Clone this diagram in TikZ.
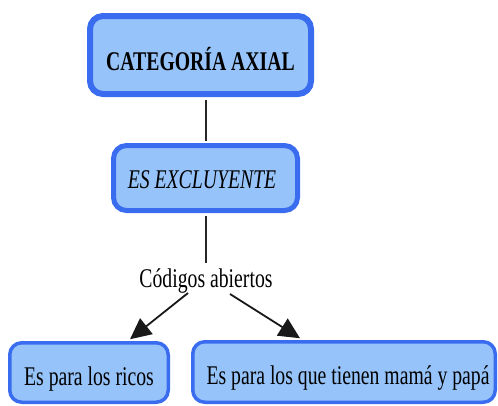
\documentclass[tikz,border=0pt]{standalone}
\usepackage{fontspec}
\setmainfont[FakeStretch=0.73]{Liberation Serif}
\usetikzlibrary{arrows.meta}
\definecolor{bfill}{RGB}{150,195,250}
\definecolor{bline}{RGB}{58,108,240}
\begin{document}
\begin{tikzpicture}[x=1pt,y=-1pt,
  txt/.style={font=\fontsize{27}{30}\selectfont},
  box/.style={draw=bline,fill=bfill,rounded corners=13pt,inner sep=0pt,text depth=0pt,txt},
  conn/.style={draw=black!85,line width=1.5pt},
  arr/.style={draw=black!90,line width=1.8pt,-{Triangle[length=21pt,width=20pt]}}]
\useasboundingbox (0,0) rectangle (498,405);
\node[box,line width=6pt,minimum width=221pt,minimum height=78pt,text height=30pt,font=\fontsize{27}{30}\selectfont\bfseries] (top) at (200.5,55) {CATEGORÍA AXIAL};
\node[box,line width=5pt,minimum width=184pt,minimum height=65pt,text height=20pt,font=\fontsize{27}{30}\selectfont\itshape] (mid) at (205.5,178) {ES EXCLUYENTE\hspace*{7pt}};
\node[txt,inner sep=0pt,anchor=base] (lbl) at (206,287) {Códigos abiertos};
\node[box,line width=3.5pt,rounded corners=12pt,minimum width=158.5pt,minimum height=59.5pt,text height=25pt] (rl) at (89,372.5) {Es para los ricos};
\node[box,line width=3.5pt,rounded corners=12pt,minimum width=302.5pt,minimum height=60.5pt,text height=25pt] (rr) at (344,372) {\hspace*{8pt}Es para los que tienen mamá y papá};
\draw[conn,shorten <=3pt,shorten >=2.5pt] (top.south -| lbl.base) -- (mid.north -| lbl.base);
\draw[conn,shorten <=2.5pt] (mid.south -| lbl.base) -- ([yshift=24pt]lbl.base);
\draw[arr] ([xshift=-18pt,yshift=-6pt]lbl.base) -- ([xshift=41pt,yshift=1.75pt]rl.north);
\draw[arr] ([xshift=24pt,yshift=-7pt]lbl.base) -- ([xshift=-44pt,yshift=1.75pt]rr.north);
\end{tikzpicture}
\end{document}
